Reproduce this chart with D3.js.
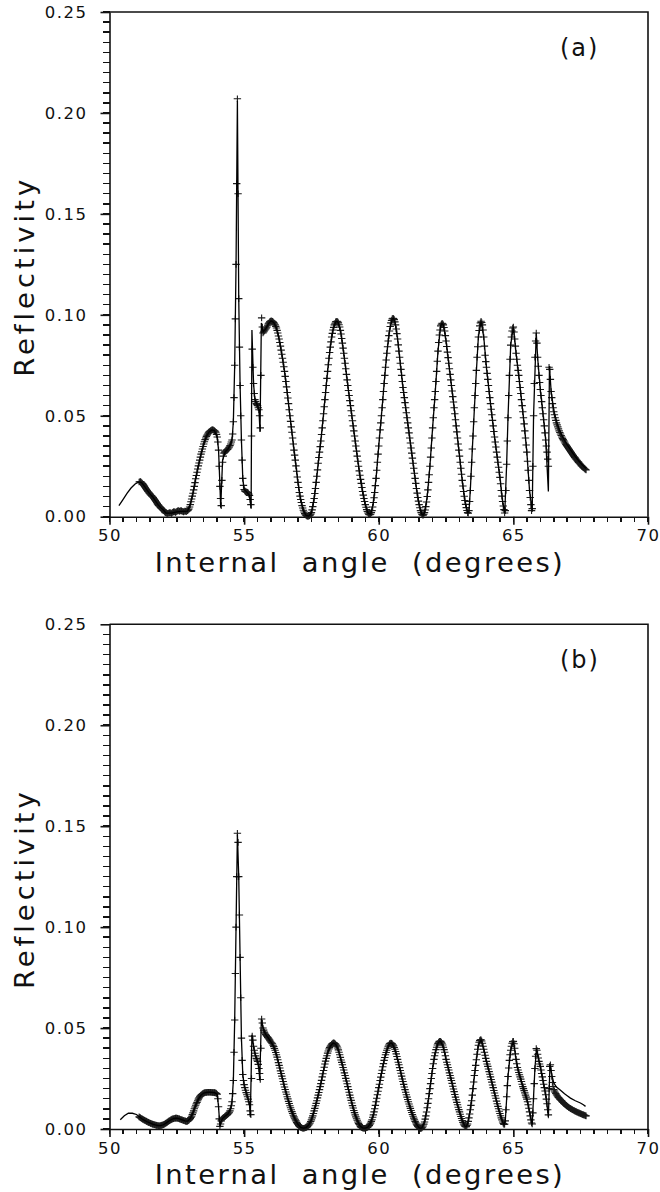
<!DOCTYPE html>
<html>
<head>
<meta charset="utf-8">
<script src="https://cdn.jsdelivr.net/npm/d3@7"></script>
<style>
body { margin: 0; background: #fff; }
text { font-family: "DejaVu Sans", sans-serif; fill: #111; }
</style>
</head>
<body>
<script>
// scan grid of the measured points (degrees): main points and the points half a step later
var angleStart = 51.1, angleStep = 0.05, midStart = 51.125;

// measured reflectivity, panel (a), 51.100 .. 67.700
var reflA = [
  .0172,.0174,.0168,.0160,.0150,.0140,.0130,.0121,.0113,.0105,.0099,.0090,.0080,.0070,.0060,.0052,.0045,.0038,
  .0033,.0024,.0018,.0016,.0018,.0020,.0016,.0022,.0025,.0021,.0026,.0030,.0027,.0030,.0027,.0024,.0028,.0025,.0030,.0038,
  .0060,.0088,.0116,.0150,.0188,.0220,.0252,.0280,.0310,.0335,.0360,.0382,.0398,.0410,.0420,.0425,.0430,.0430,.0426,.0418,
  .0395,.0330,.0150,.0055,.0270,.0315,.0322,.0330,.0335,.0345,.0360,.0380,.0470,.0750,.1250,.2070,.1080,.0650,.0380,.0190,
  .0135,.0125,.0122,.0118,.0105,.0060,.0830,.0660,.0580,.0560,.0550,.0530,.0440,.0985,.0910,.0920,.0930,.0940,.0955,.0965,
  .0970,.0968,.0962,.0950,.0935,.0910,.0880,.0845,.0805,.0765,.0720,.0670,.0615,.0560,.0500,.0445,.0390,.0330,.0280,.0225,
  .0170,.0120,.0085,.0055,.0032,.0015,.0006,.0002,.0003,.0008,.0020,.0050,.0090,.0140,.0200,.0265,.0320,.0375,.0440,.0510,
  .0580,.0650,.0720,.0785,.0840,.0890,.0925,.0950,.0965,.0968,.0960,.0940,.0905,.0860,.0810,.0760,.0705,.0650,.0600,.0550,
  .0500,.0450,.0400,.0350,.0300,.0250,.0205,.0165,.0125,.0090,.0060,.0035,.0018,.0010,.0012,.0030,.0070,.0120,.0190,.0270,
  .0350,.0430,.0500,.0580,.0660,.0740,.0810,.0870,.0920,.0960,.0980,.0982,.0965,.0930,.0880,.0820,.0760,.0700,.0640,.0590,
  .0540,.0490,.0440,.0390,.0340,.0290,.0240,.0190,.0140,.0095,.0060,.0030,.0012,.0008,.0020,.0050,.0100,.0170,.0250,.0340,
  .0440,.0540,.0620,.0720,.0820,.0900,.0945,.0958,.0950,.0920,.0870,.0815,.0760,.0705,.0650,.0595,.0540,.0480,.0420,.0360,
  .0300,.0240,.0180,.0125,.0080,.0045,.0020,.0030,.0130,.0270,.0400,.0540,.0660,.0790,.0890,.0945,.0968,.0950,.0890,.0800,
  .0740,.0680,.0620,.0560,.0505,.0450,.0395,.0345,.0295,.0245,.0195,.0130,.0075,.0035,.0030,.0260,.0490,.0700,.0850,.0920,
  .0940,.0880,.0810,.0750,.0700,.0640,.0580,.0520,.0460,.0390,.0320,.0230,.0130,.0060,.0040,.0500,.0790,.0910,.0790,.0700,
  .0630,.0570,.0510,.0450,.0380,.0320,.0250,.0730,.0620,.0560,.0520,.0490,.0465,.0445,.0425,.0410,.0395,.0382,.0370,.0358,
  .0348,.0338,.0328,.0318,.0308,.0298,.0290,.0281,.0273,.0265,.0257,.0250,.0243,.0237,.0231
];
// panel (a), 51.125 .. 67.675
var reflAmid = [
  .0173,.0172,.0164,.0155,.0145,.0135,.0125,.0117,.0109,.0102,.0095,.0085,.0075,.0065,.0056,.0048,.0041,.0035,
  .0028,.0020,.0017,.0017,.0019,.0018,.0019,.0024,.0023,.0024,.0028,.0029,.0028,.0029,.0026,.0026,.0027,.0028,.0034,.0048,
  .0074,.0102,.0133,.0169,.0204,.0236,.0266,.0295,.0322,.0348,.0371,.0390,.0404,.0415,.0423,.0428,.0431,.0428,.0423,.0408,
  .0370,.0250,.0090,.0180,.0300,.0320,.0326,.0333,.0340,.0352,.0370,.0410,.0590,.0980,.1650,.1600,.0840,.0500,.0280,.0155,
  .0128,.0123,.0120,.0112,.0085,.0400,.0740,.0610,.0570,.0555,.0540,.0500,.0700,.0940,.0915,.0925,.0935,.0948,.0960,.0968,
  .0969,.0965,.0956,.0943,.0923,.0895,.0863,.0825,.0785,.0743,.0695,.0643,.0588,.0530,.0472,.0418,.0360,.0305,.0252,.0197,
  .0145,.0102,.0070,.0043,.0023,.0010,.0004,.0002,.0005,.0013,.0034,.0070,.0115,.0170,.0232,.0293,.0347,.0407,.0475,.0545,
  .0615,.0685,.0753,.0813,.0866,.0908,.0938,.0958,.0967,.0965,.0951,.0923,.0883,.0835,.0785,.0733,.0678,.0625,.0575,.0525,
  .0475,.0425,.0375,.0325,.0275,.0227,.0185,.0145,.0107,.0075,.0047,.0026,.0013,.0010,.0020,.0048,.0094,.0154,.0230,.0310,
  .0390,.0465,.0540,.0620,.0700,.0776,.0842,.0897,.0942,.0972,.0983,.0976,.0950,.0907,.0851,.0790,.0730,.0670,.0615,.0565,
  .0515,.0465,.0415,.0365,.0315,.0265,.0215,.0165,.0117,.0077,.0044,.0020,.0009,.0012,.0033,.0073,.0133,.0208,.0295,.0390,
  .0490,.0580,.0670,.0770,.0863,.0925,.0953,.0956,.0937,.0897,.0843,.0788,.0733,.0678,.0623,.0568,.0510,.0450,.0390,.0330,
  .0270,.0210,.0152,.0101,.0061,.0031,.0017,.0075,.0200,.0335,.0470,.0600,.0725,.0842,.0922,.0960,.0962,.0925,.0845,.0768,
  .0710,.0650,.0590,.0532,.0477,.0422,.0370,.0320,.0270,.0220,.0163,.0102,.0053,.0018,.0130,.0375,.0600,.0780,.0890,.0935,
  .0915,.0845,.0780,.0725,.0670,.0610,.0550,.0490,.0425,.0355,.0275,.0180,.0095,.0030,.0250,.0660,.0870,.0860,.0745,.0665,
  .0600,.0540,.0480,.0415,.0350,.0285,.0740,.0680,.0590,.0540,.0505,.0477,.0455,.0435,.0417,.0402,.0388,.0376,.0364,.0353,
  .0343,.0333,.0323,.0313,.0303,.0294,.0285,.0277,.0269,.0261,.0253,.0246,.0240,.0234
];

// measured reflectivity, panel (b), 51.100 .. 67.700
var reflB = [
  .0060,.0056,.0051,.0047,.0043,.0040,.0036,.0033,.0030,.0027,.0024,.0022,.0020,.0018,.0017,.0016,.0017,.0019,
  .0021,.0025,.0029,.0034,.0039,.0043,.0047,.0050,.0052,.0054,.0054,.0052,.0050,.0047,.0045,.0042,.0040,.0038,.0039,.0043,
  .0052,.0063,.0080,.0100,.0118,.0132,.0148,.0160,.0168,.0174,.0178,.0180,.0181,.0182,.0182,.0182,.0181,.0181,.0180,.0178,
  .0172,.0110,.0013,.0040,.0052,.0058,.0064,.0068,.0074,.0083,.0100,.0135,.0240,.0540,.1000,.1465,.1250,.0850,.0450,.0270,
  .0220,.0192,.0170,.0148,.0120,.0071,.0460,.0410,.0375,.0350,.0335,.0300,.0245,.0545,.0500,.0480,.0468,.0458,.0450,.0440,
  .0430,.0422,.0408,.0390,.0368,.0343,.0315,.0288,.0262,.0235,.0208,.0183,.0160,.0137,.0115,.0095,.0077,.0060,.0046,.0033,
  .0022,.0013,.0008,.0005,.0004,.0005,.0007,.0012,.0020,.0030,.0045,.0065,.0090,.0115,.0140,.0168,.0195,.0225,.0258,.0290,
  .0322,.0350,.0376,.0396,.0410,.0420,.0426,.0426,.0420,.0410,.0392,.0368,.0342,.0318,.0292,.0265,.0238,.0210,.0182,.0155,
  .0129,.0104,.0081,.0060,.0043,.0028,.0016,.0008,.0005,.0004,.0004,.0006,.0010,.0018,.0030,.0046,.0070,.0100,.0135,.0170,
  .0205,.0240,.0275,.0308,.0340,.0368,.0390,.0410,.0422,.0426,.0422,.0412,.0395,.0372,.0345,.0318,.0290,.0262,.0235,.0208,
  .0182,.0158,.0135,.0113,.0092,.0072,.0054,.0038,.0024,.0013,.0006,.0003,.0005,.0015,.0035,.0065,.0105,.0150,.0200,.0250,
  .0300,.0345,.0378,.0405,.0424,.0434,.0434,.0425,.0405,.0380,.0345,.0318,.0292,.0265,.0240,.0212,.0185,.0158,.0132,.0108,
  .0085,.0062,.0042,.0025,.0014,.0012,.0025,.0055,.0095,.0140,.0200,.0265,.0315,.0370,.0415,.0438,.0442,.0425,.0395,.0365,
  .0335,.0310,.0284,.0258,.0232,.0205,.0178,.0152,.0125,.0100,.0077,.0055,.0035,.0022,.0040,.0160,.0260,.0340,.0390,.0425,
  .0434,.0400,.0345,.0305,.0280,.0258,.0235,.0210,.0190,.0168,.0148,.0120,.0085,.0045,.0025,.0150,.0300,.0398,.0370,.0335,
  .0310,.0275,.0240,.0205,.0170,.0125,.0070,.0310,.0290,.0230,.0195,.0182,.0170,.0160,.0152,.0145,.0138,.0131,.0124,.0118,
  .0112,.0107,.0103,.0099,.0095,.0092,.0088,.0085,.0082,.0079,.0076,.0073,.0070,.0068,.0065
];
// panel (b), 51.125 .. 67.675
var reflBmid = [
  .0058,.0053,.0049,.0045,.0041,.0038,.0034,.0031,.0028,.0025,.0023,.0021,.0019,.0017,.0016,.0016,.0018,.0020,
  .0023,.0027,.0031,.0036,.0041,.0045,.0049,.0051,.0053,.0054,.0053,.0051,.0048,.0046,.0043,.0041,.0039,.0038,.0041,.0047,
  .0057,.0071,.0090,.0109,.0125,.0140,.0154,.0164,.0171,.0176,.0179,.0181,.0182,.0182,.0182,.0182,.0181,.0180,.0179,.0176,
  .0150,.0050,.0025,.0047,.0055,.0061,.0066,.0071,.0078,.0090,.0115,.0175,.0380,.0770,.1250,.1420,.1060,.0650,.0340,.0240,
  .0205,.0180,.0160,.0135,.0090,.0250,.0440,.0390,.0362,.0342,.0320,.0275,.0400,.0525,.0490,.0474,.0463,.0454,.0445,.0435,
  .0426,.0415,.0399,.0379,.0356,.0329,.0302,.0275,.0249,.0222,.0196,.0172,.0149,.0126,.0105,.0086,.0068,.0053,.0040,.0027,
  .0017,.0010,.0006,.0004,.0004,.0006,.0009,.0016,.0025,.0037,.0055,.0077,.0102,.0127,.0154,.0181,.0210,.0241,.0274,.0306,
  .0336,.0363,.0386,.0403,.0415,.0423,.0427,.0423,.0415,.0401,.0380,.0355,.0330,.0305,.0278,.0251,.0224,.0196,.0168,.0142,
  .0116,.0092,.0070,.0051,.0035,.0022,.0012,.0006,.0004,.0004,.0005,.0008,.0014,.0024,.0038,.0058,.0085,.0117,.0152,.0187,
  .0222,.0257,.0291,.0324,.0354,.0379,.0400,.0416,.0424,.0424,.0417,.0404,.0384,.0359,.0331,.0304,.0276,.0248,.0221,.0195,
  .0170,.0146,.0124,.0102,.0082,.0063,.0046,.0031,.0018,.0009,.0004,.0003,.0009,.0024,.0049,.0084,.0127,.0175,.0225,.0275,
  .0323,.0363,.0393,.0416,.0430,.0435,.0430,.0416,.0393,.0363,.0331,.0305,.0278,.0252,.0226,.0198,.0171,.0145,.0120,.0096,
  .0073,.0052,.0033,.0019,.0012,.0017,.0038,.0074,.0117,.0168,.0233,.0290,.0343,.0395,.0430,.0442,.0436,.0410,.0380,.0350,
  .0322,.0297,.0271,.0245,.0218,.0191,.0165,.0138,.0112,.0088,.0066,.0045,.0027,.0024,.0095,.0215,.0302,.0368,.0410,.0433,
  .0422,.0372,.0323,.0292,.0269,.0247,.0222,.0200,.0179,.0158,.0135,.0103,.0065,.0030,.0080,.0225,.0360,.0390,.0352,.0322,
  .0292,.0258,.0222,.0188,.0148,.0095,.0200,.0318,.0260,.0210,.0188,.0176,.0165,.0156,.0148,.0141,.0134,.0127,.0121,.0115,
  .0110,.0105,.0101,.0097,.0093,.0090,.0086,.0083,.0080,.0077,.0074,.0071,.0069,.0066
];

// calculated curves [angle, reflectivity]
var fitA = [
  [50.35,.0055],[50.5,.0085],[50.65,.0115],[50.8,.0142],[50.95,.0162],[51.1,.0172],[51.2,.0168],[51.3,.0150],[51.4,.0130],
  [51.5,.0113],[51.6,.0099],[51.7,.0080],[51.8,.0060],[51.9,.0045],[52.0,.0033],[52.1,.0018],[52.3,.0018],[52.5,.0024],
  [52.7,.0026],[52.9,.0028],[53.0,.0060],[53.1,.0116],[53.2,.0188],[53.3,.0252],[53.4,.0310],[53.5,.0360],[53.6,.0398],
  [53.7,.0420],[53.8,.0430],[53.9,.0426],[54.0,.0395],[54.05,.0330],[54.1,.0160],[54.13,.0045],[54.17,.0180],[54.2,.0280],
  [54.3,.0322],[54.4,.0335],[54.5,.0360],[54.55,.0380],[54.6,.0470],[54.65,.0750],[54.7,.1250],[54.75,.2060],[54.8,.1080],
  [54.85,.0650],[54.9,.0380],[54.95,.0190],[55.0,.0135],[55.1,.0122],[55.2,.0105],[55.26,.0040],[55.29,.0925],[55.35,.0660],
  [55.4,.0580],[55.5,.0550],[55.55,.0530],[55.59,.0420],[55.64,.0960],[55.7,.0915],[55.8,.0930],[55.9,.0955],[56.0,.0970],
  [56.1,.0962],[56.2,.0935],[56.3,.0880],[56.4,.0805],[56.5,.0720],[56.6,.0615],[56.7,.0500],[56.8,.0390],[56.9,.0280],
  [57.0,.0170],[57.1,.0085],[57.2,.0032],[57.3,.0006],[57.4,.0003],[57.5,.0020],[57.6,.0090],[57.7,.0200],[57.8,.0320],
  [57.9,.0440],[58.0,.0580],[58.1,.0720],[58.2,.0840],[58.3,.0925],[58.4,.0965],[58.45,.0968],[58.5,.0960],[58.6,.0905],
  [58.7,.0810],[58.8,.0705],[58.9,.0600],[59.0,.0500],[59.1,.0400],[59.2,.0300],[59.3,.0205],[59.4,.0125],[59.5,.0060],
  [59.6,.0018],[59.7,.0012],[59.8,.0070],[59.9,.0190],[60.0,.0350],[60.1,.0500],[60.2,.0660],[60.3,.0810],[60.4,.0920],
  [60.5,.0980],[60.55,.0982],[60.6,.0965],[60.7,.0880],[60.8,.0760],[60.9,.0640],[61.0,.0540],[61.1,.0440],[61.2,.0340],
  [61.3,.0240],[61.4,.0140],[61.5,.0060],[61.6,.0012],[61.65,.0008],[61.7,.0020],[61.8,.0100],[61.9,.0250],[62.0,.0440],
  [62.1,.0620],[62.2,.0820],[62.3,.0945],[62.35,.0958],[62.4,.0950],[62.5,.0870],[62.6,.0760],[62.7,.0650],[62.8,.0540],
  [62.9,.0420],[63.0,.0300],[63.1,.0180],[63.2,.0080],[63.3,.0020],[63.35,.0025],[63.4,.0130],[63.5,.0400],[63.6,.0660],
  [63.7,.0890],[63.8,.0968],[63.9,.0890],[64.0,.0740],[64.1,.0620],[64.2,.0505],[64.3,.0395],[64.4,.0295],[64.5,.0195],
  [64.6,.0075],[64.68,.0020],[64.75,.0260],[64.8,.0490],[64.9,.0850],[65.0,.0940],[65.1,.0810],[65.2,.0700],[65.3,.0580],
  [65.4,.0460],[65.5,.0320],[65.6,.0130],[65.7,.0030],[65.75,.0500],[65.85,.0910],[65.9,.0790],[66.0,.0630],[66.1,.0510],
  [66.2,.0380],[66.3,.0125],[66.34,.0745],[66.4,.0625],[66.5,.0528],[66.6,.0473],[66.7,.0433],[66.8,.0403],[66.9,.0378],
  [67.0,.0356],[67.1,.0336],[67.2,.0316],[67.3,.0298],[67.4,.0281],[67.5,.0265],[67.6,.0251],[67.7,.0239]
];

var fitB = [
  [50.4,.0046],[50.55,.0066],[50.7,.0078],[50.85,.0078],[51.0,.0072],[51.1,.0062],[51.2,.0051],[51.3,.0043],[51.4,.0036],
  [51.5,.0030],[51.6,.0024],[51.7,.0020],[51.8,.0017],[51.9,.0017],[52.0,.0021],[52.1,.0029],[52.2,.0039],[52.3,.0047],
  [52.4,.0052],[52.5,.0054],[52.6,.0050],[52.7,.0045],[52.8,.0040],[52.9,.0039],[53.0,.0052],[53.1,.0080],[53.2,.0118],
  [53.3,.0148],[53.4,.0168],[53.5,.0178],[53.6,.0181],[53.7,.0182],[53.8,.0181],[53.9,.0180],[54.0,.0172],[54.05,.0110],
  [54.1,.0013],[54.15,.0040],[54.2,.0052],[54.3,.0064],[54.4,.0074],[54.5,.0100],[54.55,.0135],[54.6,.0240],[54.65,.0540],
  [54.7,.1000],[54.75,.1460],[54.8,.1250],[54.85,.0850],[54.9,.0450],[54.95,.0270],[55.0,.0220],[55.1,.0170],[55.15,.0148],
  [55.2,.0120],[55.23,.0060],[55.29,.0467],[55.35,.0410],[55.4,.0375],[55.5,.0335],[55.55,.0300],[55.58,.0240],[55.64,.0545],
  [55.7,.0500],[55.8,.0468],[55.9,.0450],[56.0,.0430],[56.1,.0408],[56.2,.0368],[56.3,.0315],[56.4,.0262],[56.5,.0208],
  [56.6,.0160],[56.7,.0115],[56.8,.0077],[56.9,.0046],[57.0,.0022],[57.1,.0008],[57.2,.0004],[57.3,.0007],[57.4,.0020],
  [57.5,.0045],[57.6,.0090],[57.7,.0140],[57.8,.0195],[57.9,.0258],[58.0,.0322],[58.1,.0376],[58.2,.0410],[58.3,.0426],
  [58.4,.0420],[58.5,.0392],[58.6,.0342],[58.7,.0292],[58.8,.0238],[58.9,.0182],[59.0,.0129],[59.1,.0081],[59.2,.0043],
  [59.3,.0016],[59.4,.0005],[59.5,.0004],[59.6,.0010],[59.7,.0030],[59.8,.0070],[59.9,.0135],[60.0,.0205],[60.1,.0275],
  [60.2,.0340],[60.3,.0390],[60.4,.0422],[60.45,.0426],[60.5,.0422],[60.6,.0395],[60.7,.0345],[60.8,.0290],[60.9,.0235],
  [61.0,.0182],[61.1,.0135],[61.2,.0092],[61.3,.0054],[61.4,.0024],[61.5,.0006],[61.55,.0003],[61.6,.0005],[61.7,.0035],
  [61.8,.0105],[61.9,.0200],[62.0,.0300],[62.1,.0378],[62.2,.0424],[62.27,.0436],[62.3,.0434],[62.4,.0405],[62.5,.0345],
  [62.6,.0292],[62.7,.0240],[62.8,.0185],[62.9,.0132],[63.0,.0085],[63.1,.0042],[63.2,.0014],[63.25,.0012],[63.3,.0025],
  [63.4,.0095],[63.5,.0200],[63.6,.0315],[63.7,.0415],[63.8,.0442],[63.9,.0395],[64.0,.0335],[64.1,.0284],[64.2,.0232],
  [64.3,.0178],[64.4,.0125],[64.5,.0077],[64.6,.0035],[64.65,.0022],[64.7,.0040],[64.8,.0260],[64.9,.0390],[65.0,.0434],
  [65.1,.0345],[65.2,.0280],[65.3,.0235],[65.4,.0190],[65.5,.0148],[65.6,.0085],[65.7,.0022],[65.8,.0300],[65.86,.0400],
  [65.9,.0370],[66.0,.0310],[66.1,.0240],[66.2,.0170],[66.3,.0060],[66.36,.0320],[66.45,.0255],[66.5,.0228],[66.6,.0208],
  [66.75,.0192],[66.9,.0175],[67.0,.0165],[67.12,.0153],[67.3,.0140],[67.49,.0129],[67.6,.0120],[67.68,.0112]
];

var xTicks = [50, 55, 60, 65, 70];
var yTicks = [0, 0.05, 0.10, 0.15, 0.20, 0.25];
var xMinorStep = 0.5, yMinorStep = 0.005;
var panelLabels = ["(a)", "(b)"];

// layout
var width = 660, height = 1192;
var plotLeft = 109.5, plotRight = 648, plotHeight = 504.7;
var panelTops = [12, 624.3];
var ink = "#111";

var svg = d3.select("body").append("svg")
    .attr("width", width)
    .attr("height", height);

function drawPanel(top, refl, reflMid, fit, label) {
    var g = svg.append("g").attr("transform", "translate(0," + top + ")");

    var x = d3.scaleLinear().domain([50, 70]).range([plotLeft, plotRight]);
    var y = d3.scaleLinear().domain([0, 0.25]).range([plotHeight, 0]);

    // frame (left and bottom come from the axes)
    g.append("path")
        .attr("d", "M" + x(50) + "," + y(0.25) + "H" + x(70) + "V" + y(0))
        .attr("fill", "none")
        .attr("stroke", ink)
        .attr("stroke-width", 1.6);

    // minor ticks, pointing out of the plot
    var yMinor = d3.range(0, 50.5).map(function (i) { return i * yMinorStep; });
    var xMinor = d3.range(0, 40.5).map(function (i) { return 50 + i * xMinorStep; });
    var minor = g.append("g")
        .attr("stroke", ink)
        .attr("stroke-width", 1.5)
        .attr("shape-rendering", "crispEdges");
    minor.selectAll("line.ym")
        .data(yMinor)
        .enter().append("line")
        .attr("class", "ym")
        .attr("x1", x(50) - 7).attr("x2", x(50))
        .attr("y1", function (d) { return y(d); })
        .attr("y2", function (d) { return y(d); });
    minor.selectAll("line.xm")
        .data(xMinor)
        .enter().append("line")
        .attr("class", "xm")
        .attr("x1", function (d) { return x(d); })
        .attr("x2", function (d) { return x(d); })
        .attr("y1", y(0)).attr("y2", y(0) + 5);

    // main axes
    g.append("g")
        .attr("transform", "translate(" + plotLeft + ",0)")
        .call(d3.axisLeft(y).tickValues(yTicks).tickSize(9).tickSizeOuter(0).tickPadding(13).tickFormat(d3.format(".2f")));
    g.append("g")
        .attr("transform", "translate(0," + plotHeight + ")")
        .call(d3.axisBottom(x).tickValues(xTicks).tickSize(8).tickSizeOuter(0).tickPadding(5));

    g.selectAll(".domain, .tick line").attr("stroke", ink).attr("stroke-width", 1.6);
    g.selectAll(".tick text")
        .attr("fill", ink)
        .style("font-family", "'DejaVu Sans', sans-serif")
        .style("font-size", "16.5px")
        .style("letter-spacing", "1.5px");

    // measured points as + markers
    var pts = refl.map(function (r, i) { return [angleStart + i * angleStep, r]; })
        .concat(reflMid.map(function (r, i) { return [midStart + i * angleStep, r]; }));
    g.append("g").selectAll("path")
        .data(pts)
        .enter().append("path")
        .attr("transform", function (d) { return "translate(" + x(d[0]) + "," + y(d[1]) + ")"; })
        .attr("d", "M-3.7,0H3.7M0,-3.3V3.3")
        .attr("stroke", "#1a1a1a")
        .attr("stroke-width", 1.1)
        .attr("fill", "none");

    // calculated curve
    var line = d3.line()
        .x(function (d) { return x(d[0]); })
        .y(function (d) { return y(d[1]); });
    g.append("path")
        .datum(fit)
        .attr("d", line)
        .attr("fill", "none")
        .attr("stroke", "#000")
        .attr("stroke-width", 1.3);

    // axis titles
    g.append("text")
        .attr("x", 360)
        .attr("y", plotHeight + 55)
        .attr("text-anchor", "middle")
        .style("font-size", "27.4px")
        .style("letter-spacing", "2.4px")
        .style("white-space", "pre")
        .text("Internal  angle  (degrees)");

    g.append("text")
        .attr("transform", "translate(34," + (plotHeight / 2 + 12) + ") rotate(-90)")
        .attr("text-anchor", "middle")
        .style("font-size", "27.4px")
        .style("letter-spacing", "4px")
        .text("Reflectivity");

    g.append("text")
        .attr("x", 560)
        .attr("y", 44)
        .style("font-size", "24px")
        .style("letter-spacing", "2px")
        .text(label);
}

drawPanel(panelTops[0], reflA, reflAmid, fitA, panelLabels[0]);
drawPanel(panelTops[1], reflB, reflBmid, fitB, panelLabels[1]);
</script>
</body>
</html>
